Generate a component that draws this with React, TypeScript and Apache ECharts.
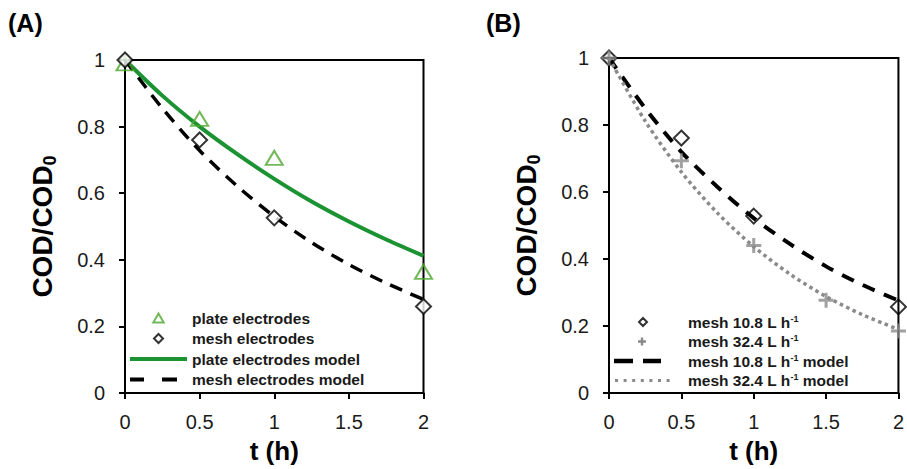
import React, { useEffect, useRef } from "react";
import * as echarts from "echarts";

// ---- Panel A data ----
const tObsA = [0, 0.5, 1, 2];
const plateObs = [0.99, 0.823, 0.706, 0.364];
const meshObsA = [1.0, 0.76, 0.526, 0.26];
const tModel = [0, 0.25, 0.5, 0.75, 1, 1.25, 1.5, 1.75, 2];
const plateModel = [1, 0.893, 0.8, 0.718, 0.643, 0.575, 0.515, 0.461, 0.412];
const meshModelA = [1, 0.855, 0.728, 0.622, 0.53, 0.452, 0.386, 0.33, 0.281];

// ---- Panel B data ----
const tObs108 = [0, 0.5, 1, 2];
const mesh108 = [1.0, 0.761, 0.528, 0.257];
const tObs324 = [0, 0.5, 1, 1.5, 2];
const mesh324 = [1.0, 0.693, 0.44, 0.277, 0.185];
const model108 = [1, 0.85, 0.72, 0.615, 0.522, 0.445, 0.378, 0.323, 0.276];
const model324 = [1, 0.812, 0.66, 0.537, 0.437, 0.355, 0.288, 0.234, 0.19];

// ---- ticks / labels ----
const xTicks = [0, 0.5, 1, 1.5, 2];
const yTicks = [0, 0.2, 0.4, 0.6, 0.8, 1];
const panelTitles = ["(A)", "(B)"];
const legendA = ["plate electrodes", "mesh electrodes", "plate electrodes model", "mesh electrodes model"];
const legendB = ["mesh 10.8 L h-1", "mesh 32.4 L h-1", "mesh 10.8 L h-1 model", "mesh 32.4 L h-1 model"];

const FONT = "Liberation Sans, Arial, sans-serif";
const GREEN_LINE = "#1b9332";
const GREEN_MARK = "#4ea72e";
const GRAY = "#8a8a8a";
const PLUS = "path://M4,0H6V4H10V6H6V10H4V6H0V4H4Z";
const TRI = "path://M5,0L10,8.7L0,8.7Z";

// legend icon paths drawn in the full legend-item box (w x h) so they are not rescaled
const boxed = (w: number, h: number, body: string) =>
  "path://M0,0L0.01,0 M" + w + "," + h + "L" + (w - 0.01) + "," + h + " " + body;
const rect = (x: number, y: number, w: number, h: number) =>
  "M" + x + "," + y + "H" + (x + w) + "V" + (y + h) + "H" + x + "Z ";
const dia = (cx: number, cy: number, r: number) =>
  "M" + cx + "," + (cy - r) + "L" + (cx + r) + "," + cy + "L" + cx + "," + (cy + r) + "L" + (cx - r) + "," + cy + "Z";
const plus = (cx: number, cy: number, r: number, a: number) =>
  rect(cx - r, cy - a, 2 * r, 2 * a) + rect(cx - a, cy - r, 2 * a, 2 * r);

const AW = 57, BW = 74, IH = 9;
const ICON_SOLID = boxed(AW, IH, rect(0, 2.5, 57, 4));
const ICON_DASH_A = boxed(AW, IH, rect(0, 2.5, 14, 4) + rect(32, 2.5, 15, 4));
const ICON_DIA_B = boxed(BW, IH, dia(34, 4.5, 4));
const ICON_PLUS_B = boxed(BW, IH, plus(33, 4.5, 4, 1.2));
const ICON_DASH_B = boxed(BW, IH, rect(5, 2.25, 19, 4.5) + rect(34, 2.25, 18, 4.5));
const ICON_DOT_B = boxed(
  BW,
  IH,
  [0, 1, 2, 3, 4, 5, 6].map((i) => rect(6 + i * 8.6, 3, 3, 3)).join("")
);

const pairs = (xs: number[], ys: number[]) => xs.map((x, i) => [x, ys[i]]);

function axisX(gridIndex: number) {
  return {
    type: "value",
    gridIndex,
    min: xTicks[0],
    max: xTicks[xTicks.length - 1],
    interval: 0.5,
    name: "t (h)",
    nameLocation: "middle",
    nameGap: 45,
    nameTextStyle: { fontFamily: FONT, fontSize: 26, fontWeight: "bold", color: "#000" },
    axisLine: { lineStyle: { color: "#000", width: 2 } },
    axisTick: { show: true, inside: false, length: 6, lineStyle: { color: "#000", width: 2 } },
    axisLabel: { fontFamily: FONT, fontSize: 20, color: "#1a1a1a", margin: 19 },
    splitLine: { show: false },
  };
}

function axisY(gridIndex: number) {
  return {
    type: "value",
    gridIndex,
    min: yTicks[0],
    max: yTicks[yTicks.length - 1],
    interval: 0.2,
    name: "{a|COD/COD}{b|0}",
    nameLocation: "middle",
    nameRotate: 90,
    nameGap: 66,
    nameTextStyle: {
      rich: {
        a: { fontFamily: FONT, fontSize: 28, fontWeight: "bold", color: "#000", lineHeight: 34 },
        b: { fontFamily: FONT, fontSize: 18, fontWeight: "bold", color: "#000", lineHeight: 16, verticalAlign: "bottom" },
      },
    },
    axisLine: { lineStyle: { color: "#000", width: 2 } },
    axisTick: { show: true, inside: false, length: 6, lineStyle: { color: "#000", width: 2 } },
    axisLabel: { fontFamily: FONT, fontSize: 20, color: "#1a1a1a", margin: 20 },
    splitLine: { show: false },
  };
}

const legendText = {
  fontFamily: FONT,
  fontSize: 15.5,
  fontWeight: "bold",
  color: "#1a1a1a",
  lineHeight: 16,
  rich: {
    n: { fontFamily: FONT, fontSize: 15.5, fontWeight: "bold", color: "#1a1a1a", lineHeight: 16 },
    sup: { fontFamily: FONT, fontSize: 9, fontWeight: "bold", color: "#1a1a1a", lineHeight: 9, verticalAlign: "top" },
  },
};

const filled = (c: string) => ({ color: c, borderWidth: 0, opacity: 1 });

export default function App() {
  const ref = useRef<HTMLDivElement>(null);
  useEffect(() => {
    if (!ref.current) return;
    const chart = echarts.init(ref.current, undefined, { renderer: "svg" });
    const titleStyle = { fontFamily: FONT, fontSize: 25, fontWeight: "bold", color: "#000" };
    const option: any = {
      animation: false,
      backgroundColor: "#fff",
      title: [
        { text: panelTitles[0], left: 8, top: 10, textStyle: titleStyle, padding: 0 },
        { text: panelTitles[1], left: 486, top: 10, textStyle: titleStyle, padding: 0 },
      ],
      grid: [
        { left: 125, top: 60, width: 298.5, height: 333.5, show: true, borderColor: "#000", borderWidth: 2, backgroundColor: "#fff" },
        { left: 609, top: 58, width: 297, height: 339, show: true, borderColor: "#000", borderWidth: 2, backgroundColor: "#fff" },
      ],
      xAxis: [axisX(0), axisX(1)],
      yAxis: [axisY(0), axisY(1)],
      legend: [
        {
          orient: "vertical",
          left: 130,
          top: 310,
          padding: 0,
          itemGap: 4.5,
          itemWidth: AW,
          itemHeight: IH,
          symbolKeepAspect: true,
          textStyle: legendText,
          data: [
            { name: legendA[0], icon: TRI, itemStyle: { color: "#fff", borderColor: GREEN_MARK, borderWidth: 2 } },
            { name: legendA[1], icon: "path://M5,0L10,5L5,10L0,5Z", itemStyle: { color: "#fff", borderColor: "#000", borderWidth: 2 } },
            { name: legendA[2], icon: ICON_SOLID, itemStyle: filled(GREEN_LINE) },
            { name: legendA[3], icon: ICON_DASH_A, itemStyle: filled("#000") },
          ],
        },
        {
          orient: "vertical",
          left: 608,
          top: 314,
          padding: 0,
          itemGap: 3.5,
          itemWidth: BW,
          itemHeight: IH,
          symbolKeepAspect: true,
          textStyle: legendText,
          formatter: (name: string) => "{n|" + name.replace("h-1", "h}{sup|-1}{n|") + "}",
          data: [
            { name: legendB[0], icon: ICON_DIA_B, itemStyle: { color: "#fff", borderColor: "#000", borderWidth: 2 } },
            { name: legendB[1], icon: ICON_PLUS_B, itemStyle: filled(GRAY) },
            { name: legendB[2], icon: ICON_DASH_B, itemStyle: filled("#000") },
            { name: legendB[3], icon: ICON_DOT_B, itemStyle: filled(GRAY) },
          ],
        },
      ],
      series: [
        {
          name: legendA[2],
          type: "line",
          xAxisIndex: 0,
          yAxisIndex: 0,
          data: pairs(tModel, plateModel),
          smooth: 0.3,
          symbol: "none",
          lineStyle: { color: GREEN_LINE, width: 4, type: "solid" },
          itemStyle: { color: GREEN_LINE },
          z: 3,
        },
        {
          name: legendA[3],
          type: "line",
          xAxisIndex: 0,
          yAxisIndex: 0,
          data: pairs(tModel, meshModelA),
          smooth: 0.3,
          symbol: "none",
          lineStyle: { color: "#000", width: 3.5, type: [13, 9] },
          itemStyle: { color: "#000" },
          z: 3,
        },
        {
          name: legendA[0],
          type: "scatter",
          xAxisIndex: 0,
          yAxisIndex: 0,
          data: pairs(tObsA, plateObs),
          symbol: "triangle",
          symbolSize: [17, 14],
          clip: false,
          itemStyle: { color: "rgba(255,255,255,0)", borderColor: GREEN_MARK, borderWidth: 2 },
          z: 4,
        },
        {
          name: legendA[1],
          type: "scatter",
          xAxisIndex: 0,
          yAxisIndex: 0,
          data: pairs(tObsA, meshObsA),
          symbol: "diamond",
          symbolSize: 15,
          clip: false,
          itemStyle: { color: "#fff", borderColor: "#000", borderWidth: 2 },
          z: 4,
        },
        {
          name: legendB[2],
          type: "line",
          xAxisIndex: 1,
          yAxisIndex: 1,
          data: pairs(tModel, model108),
          smooth: 0.3,
          symbol: "none",
          lineStyle: { color: "#000", width: 4, type: [13, 10] },
          itemStyle: { color: "#000" },
          z: 3,
        },
        {
          name: legendB[3],
          type: "line",
          xAxisIndex: 1,
          yAxisIndex: 1,
          data: pairs(tModel, model324),
          smooth: 0.3,
          symbol: "none",
          lineStyle: { color: GRAY, width: 3.5, type: [3.5, 3.5] },
          itemStyle: { color: GRAY },
          z: 3,
        },
        {
          name: legendB[0],
          type: "scatter",
          xAxisIndex: 1,
          yAxisIndex: 1,
          data: pairs(tObs108, mesh108),
          symbol: "diamond",
          symbolSize: 15,
          clip: false,
          itemStyle: { color: "rgba(255,255,255,0)", borderColor: "#000", borderWidth: 2 },
          z: 4,
        },
        {
          name: legendB[1],
          type: "scatter",
          xAxisIndex: 1,
          yAxisIndex: 1,
          data: pairs(tObs324, mesh324),
          symbol: PLUS,
          symbolSize: 15,
          clip: false,
          itemStyle: { color: GRAY },
          z: 4,
        },
      ],
    };
    chart.setOption(option);
    return () => chart.dispose();
  }, []);
  return (
    <div
      ref={ref}
      style={{ position: "absolute", left: 0, top: 0, width: 907, height: 469, background: "#fff" }}
    />
  );
}
